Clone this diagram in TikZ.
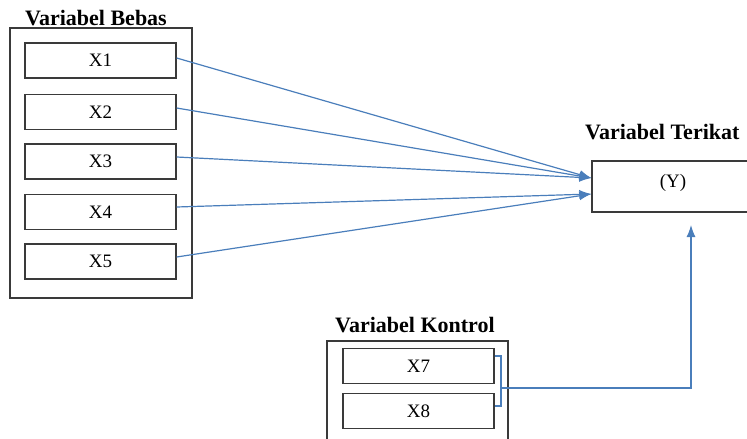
\documentclass[tikz,border=0pt]{standalone}
\usepackage{fontspec}
\setmainfont{Liberation Serif}
\usetikzlibrary{arrows.meta}
\definecolor{linkblue}{HTML}{4A7EBB}
\definecolor{boxgray}{HTML}{3A3A3A}
\tikzset{
  frame/.style={draw=boxgray, line width=1.3pt, fill=none, inner sep=0pt},
  varbox/.style={draw=boxgray, line width=1.3pt, minimum width=151pt, minimum height=35pt, inner sep=0pt, font=\fontsize{19}{21}\selectfont},
  title/.style={font=\fontsize{22}{24}\selectfont\bfseries, inner sep=0pt, anchor=base west},
  link/.style={draw=linkblue, line width=1.2pt},
  arr/.style={link, -{Latex[length=12pt,width=9pt]}}
}
\begin{document}
\begin{tikzpicture}[x=1pt,y=-1pt]
\useasboundingbox (0,0) rectangle (747,439);
% frames
\node[frame, minimum width=182pt, minimum height=270pt] (bebas) at (101,163) {};
\node[frame, minimum width=181pt, minimum height=120pt] (kontrol) at (417.5,401) {};
\node[frame, minimum width=160pt, minimum height=51pt] (y) at (672,186.5) {};
\node[font=\fontsize{19}{21}\selectfont, inner sep=0pt, anchor=base] (ylab) at (673,187) {(Y)};
% titles
\node[title] (tb) at (25,25) {Variabel Bebas};
\node[title] (tt) at (585,139) {Variabel Terikat};
\node[title] (tk) at (335,332) {Variabel Kontrol};
% independent variables
\node[varbox] (x1) at (100.5,60.5) {X1};
\node[varbox] (x2) at (100.5,112) {X2};
\node[varbox] (x3) at (100.5,161.5) {X3};
\node[varbox] (x4) at (100.5,212) {X4};
\node[varbox] (x5) at (100.5,261.5) {X5};
% control variables
\node[varbox] (x7) at (418.5,366) {X7};
\node[varbox] (x8) at (418.5,411) {X8};
% arrow targets
\coordinate (ya) at ([yshift=8.5pt]y.west);
\coordinate (yb) at ([yshift=-7.5pt]y.west);
\coordinate (yin) at (691,225);
\coordinate (brtop) at (501,356);
\coordinate (brbot) at (501,406);
\coordinate (brk) at (501,388);
% connectors
\draw[arr] ([yshift=2.5pt]x1.east) -- (ya);
\draw[arr] ([yshift=4pt]x2.east) -- (ya);
\draw[arr] ([yshift=4.5pt]x3.east) -- (ya);
\draw[arr] ([yshift=5pt]x4.east) -- (yb);
\draw[arr] ([yshift=4.5pt]x5.east) -- (yb);
\draw[link] (x7.east |- brtop) -- (brtop) -- (brbot) -- (x8.east |- brbot);
\draw[arr] (brk) -| (yin);
\end{tikzpicture}
\end{document}
